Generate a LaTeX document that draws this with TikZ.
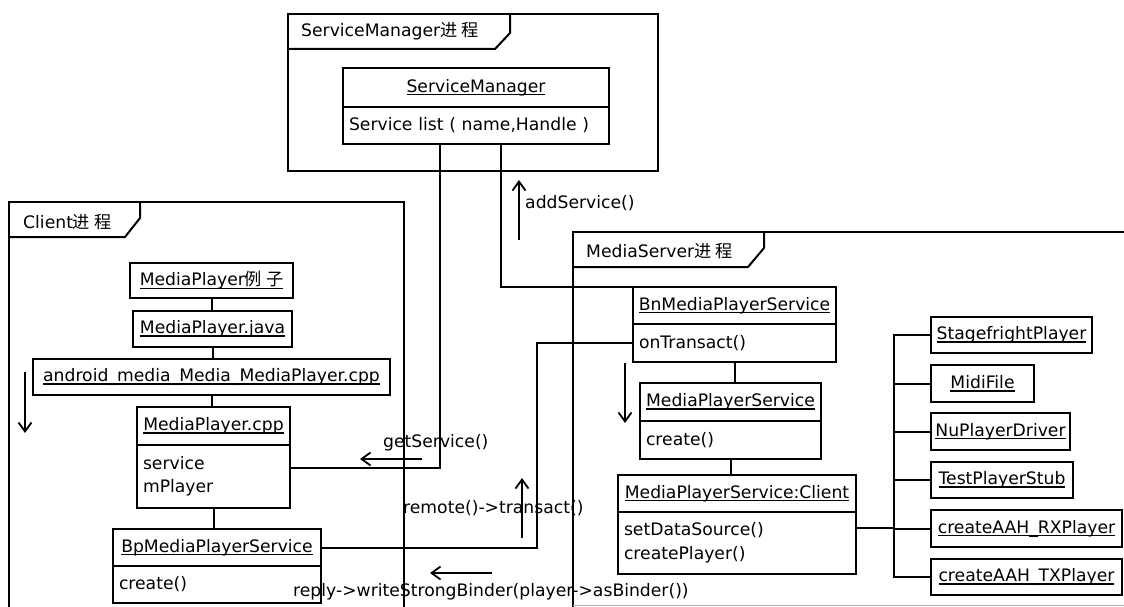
\documentclass[tikz,border=0pt]{standalone}
\usepackage{fontspec}
\setmainfont{DejaVu Sans}
\newfontfamily\cjk{Noto Sans CJK SC}
\usetikzlibrary{arrows.meta,calc}
\newcommand\ul[1]{\setbox0\hbox{#1}\rlap{\rule[-3pt]{\wd0}{1.3pt}}\box0}
\begin{document}
\begin{tikzpicture}[x=1pt,y=-1pt,
  every node/.style={font=\fontsize{17.2}{23.5}\selectfont},
  box/.style={draw, line width=2pt, inner sep=0pt, outer sep=0pt, anchor=north west},
  ttl/.style={box, align=center},
  bdy/.style={box, inner xsep=6pt, inner ysep=0pt, align=left},
  ln/.style={line width=2pt},
  arr/.style={line width=2pt, -{Straight Barb[length=9pt,width=13pt,line width=1.8pt]}},
  lbl/.style={inner sep=0pt, anchor=west}]
\useasboundingbox[fill=white] (0,0) rectangle (1124,607);

% ---------- frames ----------
\draw[ln] (288,14) rectangle (658,171);
\draw[ln] (288,49) -- (495,49) -- (510,33) -- (510,14);
\node[lbl] (fsm) at (301,31) {ServiceManager{\cjk 进 程}};

\draw[ln] (9,610) -- (9,202) -- (404,202) -- (404,610);
\draw[ln] (9,237) -- (125,237) -- (140,218) -- (140,202);
\node[lbl] (fcl) at (23,222) {Client{\cjk 进 程}};

\draw[ln] (573,610) -- (573,232) -- (1130,232);
\draw[ln] (573,267) -- (748,267) -- (764,248) -- (764,232);
\draw[line width=1pt, gray!60] (573,605.5) -- (1124,605.5);
\node[lbl] (fms) at (586,251) {MediaServer{\cjk 进 程}};

% ---------- ServiceManager ----------
\node[ttl, minimum width=266pt, minimum height=39pt] (smt) at (343,68) {\ul{ServiceManager}};
\node[bdy, text width=254pt, minimum height=37pt] (smb) at (smt.south west) {Service list ( name,Handle )};

% ---------- Client ----------
\node[ttl, minimum width=163pt, minimum height=35pt] (mpex) at (130,263) {\ul{MediaPlayer{\cjk 例 子}}};
\node[ttl, minimum width=159pt, minimum height=36pt] (mpjava) at (133,311) {\ul{MediaPlayer.java}};
\node[ttl, minimum width=357pt, minimum height=36pt] (jni) at (33,359) {\ul{android\_media\_Media\_MediaPlayer.cpp}};
\node[ttl, minimum width=153pt, minimum height=38pt] (mpcppt) at (137,407) {\ul{MediaPlayer.cpp}};
\node[bdy, text width=141pt, minimum height=63pt] (mpcppb) at (mpcppt.south west) {service\\mPlayer};
\node[ttl, minimum width=208pt, minimum height=37pt] (bpt) at (113,529) {\ul{BpMediaPlayerService}};
\node[bdy, text width=196pt, minimum height=37pt] (bpb) at (bpt.south west) {create()};

\draw[ln] (mpex.south) -- (mpex.south |- mpjava.north);
\draw[ln] (mpjava.south) -- (mpjava.south |- jni.north);
\draw[ln] (jni.south) -- (jni.south |- mpcppt.north);
\draw[ln] (mpcppb.south) -- (mpcppb.south |- bpt.north);

% ---------- MediaServer ----------
\node[ttl, minimum width=203pt, minimum height=37pt] (bnt) at (633,287) {\ul{BnMediaPlayerService}};
\node[bdy, text width=191pt, minimum height=38pt] (bnb) at (bnt.south west) {onTransact()};
\node[ttl, minimum width=181pt, minimum height=38pt] (mpst) at (640,383) {\ul{MediaPlayerService}};
\node[bdy, text width=169pt, minimum height=38pt] (mpsb) at (mpst.south west) {create()};
\node[ttl, minimum width=238pt, minimum height=37pt] (mpsct) at (618,475) {\ul{MediaPlayerService:Client}};
\node[bdy, text width=226pt, minimum height=62pt] (mpscb) at (mpsct.south west) {setDataSource()\\createPlayer()};

\draw[ln] (bnb.south) -- (bnb.south |- mpst.north);
\draw[ln] (mpsb.south) -- (mpsb.south |- mpsct.north);

\node[ttl, minimum width=161pt, minimum height=36pt] (stage) at (931,317) {\ul{StagefrightPlayer}};
\node[ttl, minimum width=103pt, minimum height=37pt] (midi) at (931,365) {\ul{MidiFile}};
\node[ttl, minimum width=139pt, minimum height=37pt] (nu) at (931,413) {\ul{NuPlayerDriver}};
\node[ttl, minimum width=142pt, minimum height=36pt] (test) at (931,462) {\ul{TestPlayerStub}};
\node[ttl, minimum width=191pt, minimum height=37pt] (rx) at (931,510) {\ul{createAAH\_RXPlayer}};
\node[ttl, minimum width=191pt, minimum height=36pt] (tx) at (931,559) {\ul{createAAH\_TXPlayer}};

\coordinate (cbus) at (894,0);
\draw[ln] (stage.west) -- (stage.west -| cbus) -- (tx.west -| cbus) -- (tx.west);
\foreach \p in {midi,nu,test,rx} \draw[ln] (\p.west) -- (\p.west -| cbus);
\coordinate (mpscout) at ($(mpscb.north east)+(0,16)$);
\draw[ln] (mpscout) -- (mpscout -| cbus);

% ---------- inter-process connectors ----------
\coordinate (c440) at (440,0);
\coordinate (c501) at (501,0);
\coordinate (c537) at (537,0);
\coordinate (y468) at (0,468);
\draw[ln] (smb.south -| c440) -- (c440 |- y468) -- (mpcppb.east |- y468);
\draw[ln] (smb.south -| c501) |- (bnt.north west);
\draw[ln] (bpt.east) -| (c537 |- bnb.west) -- (bnb.west);

% ---------- message arrows and labels ----------
\coordinate (a1s) at (519,240); \coordinate (a1e) at (519,180);
\draw[arr] (a1s) -- (a1e);
\node[lbl] (laddsvc) at (525,203) {addService()};

\coordinate (a2s) at (422,459); \coordinate (a2e) at (360,459);
\draw[arr] (a2s) -- (a2e);
\node[lbl] (lgetsvc) at (383,443) {getService()};

\coordinate (a3s) at (522,538); \coordinate (a3e) at (522,478);
\draw[arr] (a3s) -- (a3e);
\node[lbl] (lremote) at (403,508) {remote()->transact()};

\coordinate (a4s) at (492,573); \coordinate (a4e) at (430,573);
\draw[arr] (a4s) -- (a4e);
\node[lbl] (lreply) at (293,592) {reply->writeStrongBinder(player->asBinder())};

\coordinate (a5s) at (25,372); \coordinate (a5e) at (25,433);
\draw[arr] (a5s) -- (a5e);
\coordinate (a6s) at (625,363); \coordinate (a6e) at (625,423);
\draw[arr] (a6s) -- (a6e);
\end{tikzpicture}
\end{document}
